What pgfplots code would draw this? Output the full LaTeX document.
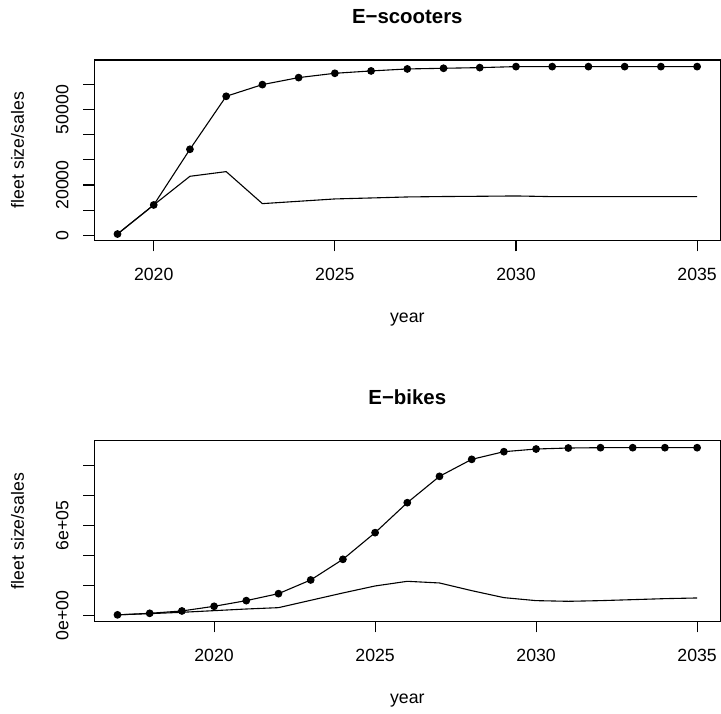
\documentclass[border=0pt]{standalone}
\usepackage{pgfplots}
\pgfplotsset{compat=1.18}
\usepackage{fontspec}
\setmainfont{Liberation Sans}

\pgfplotsset{
  Rstyle/.style={
    scale only axis,
    width=626pt,
    anchor=south west,
    axis line style={line width=1.1pt, black},
    tick style={line width=1.1pt, black},
    tick align=outside,
    major tick length=11pt,
    xtick pos=left, ytick pos=left,
    minor tick num=0,
    scaled y ticks=false,
    font=\fontsize{17.7}{21}\selectfont,
    ticklabel style={font=\fontsize{17.7}{21}\selectfont},
    xticklabel style={anchor=base, yshift=-29.4pt, inner sep=0pt},
    yticklabel style={xshift=-15pt, rotate=90, anchor=base, inner sep=0pt},
    every axis title/.style={font=\bfseries\fontsize{20.4}{25}\selectfont, at={(axis description cs:0.5,1)}, anchor=base, yshift=36.5pt, inner sep=0pt},
    every axis x label/.style={at={(axis description cs:0.5,0)}, anchor=base, yshift=-82.3pt, inner sep=0pt},
    every axis y label/.style={at={(axis description cs:0,0.5)}, xshift=-70.3pt, rotate=90, anchor=base, inner sep=0pt},
    every axis plot/.append style={line width=1.1pt, black},
    xlabel={year},
    ylabel={fleet size/sales},
    xtick={2020,2025,2030,2035},
    xticklabels={2020,2025,2030,2035},
  }
}

\begin{document}
\begin{tikzpicture}
\path[use as bounding box] (0pt,0pt) rectangle (721pt,713pt);

\begin{axis}[Rstyle,
  at={(94.3pt,472.7pt)},
  height=180.3pt,
  title={E−scooters},
  xmin=2018.36, xmax=2035.64,
  ymin=-1990, ymax=69650,
  ytick={0,10000,20000,30000,40000,50000,60000},
  yticklabels={0,,20000,,,50000,},
]
\addplot[mark=*, mark size=3.3pt] coordinates {
(2019,500) (2020,12050) (2021,34170) (2022,55230) (2023,59870) (2024,62650)
(2025,64370) (2026,65300) (2027,66090) (2028,66360) (2029,66620) (2030,67020)
(2031,67020) (2032,67020) (2033,67020) (2034,67020) (2035,67020)};
\addplot[no marks] coordinates {
(2019,500) (2020,12050) (2021,23440) (2022,25300) (2023,12580) (2024,13510)
(2025,14440) (2026,14830) (2027,15230) (2028,15400) (2029,15500) (2030,15630)
(2031,15360) (2032,15360) (2033,15360) (2034,15360) (2035,15360)};
\end{axis}

\begin{axis}[Rstyle,
  at={(94.3pt,91.7pt)},
  height=180.6pt,
  title={E−bikes},
  xmin=2016.28, xmax=2035.72,
  ymin=-40000, ymax=1164400,
  ytick={0,200000,400000,600000,800000,1000000},
  yticklabels={0e+00,,,6e+05,,},
]
\addplot[mark=*, mark size=3.3pt] coordinates {
(2017,3000) (2018,13300) (2019,28900) (2020,60000) (2021,97800) (2022,144400)
(2023,235600) (2024,373300) (2025,551100) (2026,751100) (2027,926700)
(2028,1040000) (2029,1091100) (2030,1108900) (2031,1115600) (2032,1117800)
(2033,1117800) (2034,1117800) (2035,1117800)};
\addplot[no marks] coordinates {
(2017,3000) (2018,11000) (2019,20000) (2020,31000) (2021,42000) (2022,51000)
(2023,100000) (2024,149000) (2025,195600) (2026,226700) (2027,215600)
(2028,164400) (2029,117800) (2030,97800) (2031,93300) (2032,97800)
(2033,104400) (2034,111100) (2035,115600)};
\end{axis}
\end{tikzpicture}
\end{document}
